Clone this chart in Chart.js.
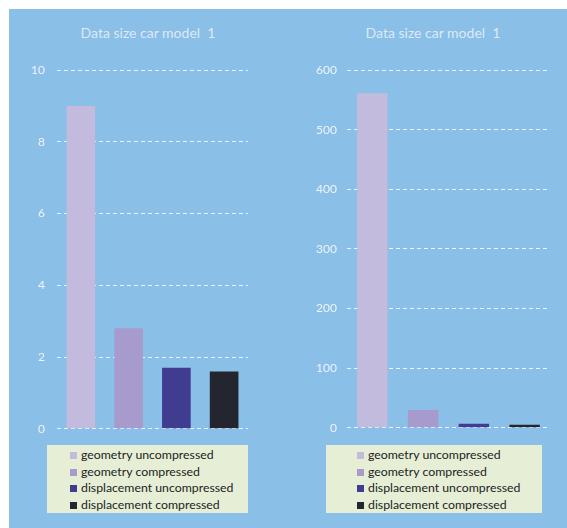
<!DOCTYPE html>
<html>
<head>
<meta charset="utf-8">
<script src="https://cdn.jsdelivr.net/npm/chart.js@4"></script>
<style>
  html, body { margin: 0; padding: 0; background: #fff; }
  #panel { position: absolute; left: 9px; top: 9px; width: 558px; height: 519px; background: #8abfe7; }
  canvas { position: absolute; }
  .title { position: absolute; top: 24px; height: 18px; line-height: 18px; text-align: center; font-family: Lato, sans-serif; font-size: 14px; color: #dde9f6; white-space: pre; }
  .legend { position: absolute; background: #e6efd6; font-family: Lato, sans-serif; font-size: 12.3px; color: #222; box-sizing: border-box; }
  .legend div { height: 16.7px; line-height: 16.7px; white-space: nowrap; }
  .legend span { display: inline-block; width: 7px; height: 7px; margin-right: 4px; vertical-align: 0px; }
</style>
</head>
<body>
<div id="panel"></div>
<div class="title" id="title0" style="left:9px;width:278px"></div>
<div class="title" id="title1" style="left:299px;width:268px"></div>
<canvas id="chart0" width="278" height="439" style="left:9px;top:9px"></canvas>
<canvas id="chart1" width="268" height="436" style="left:299px;top:9px"></canvas>
<div class="legend" id="legend0" style="left:47px;top:445px;width:201px;height:68px;padding:2px 0 0 23px"></div>
<div class="legend" id="legend1" style="left:326px;top:445px;width:216px;height:68px;padding:2px 0 0 31px"></div>
<script>
const title = 'Data size car model  1';
const seriesNames = ['geometry uncompressed', 'geometry compressed', 'displacement uncompressed', 'displacement compressed'];
const seriesColors = ['#c3bbdd', '#a69bcc', '#403c90', '#24262f'];
const valuesSmall = [9.0, 2.8, 1.7, 1.6];
const valuesLarge = [561, 30, 7, 5];

function make_chart(id, values, maxY, step, tickPad, padRight) {
    const ctx = document.getElementById(id).getContext('2d');
    const datasets = [];
    for (let i = 0; i < seriesNames.length; i++)
        datasets.push({
            label: seriesNames[i],
            data: [values[i]],
            backgroundColor: seriesColors[i],
            borderWidth: 0,
            categoryPercentage: 1,
            barPercentage: 0.6,
        });

    return new Chart(ctx, {
        type: 'bar',
        data: { labels: [''], datasets: datasets },
        options: {
            responsive: false,
            animation: false,
            layout: { padding: { top: 61, right: padRight, bottom: 10, left: 0 } },
            plugins: {
                legend: { display: false },
                tooltip: { enabled: false },
            },
            scales: {
                x: { display: false },
                y: {
                    min: 0,
                    max: maxY,
                    ticks: {
                        stepSize: step,
                        color: '#eef4fb',
                        font: { family: 'Lato', size: 12 },
                        padding: tickPad,
                    },
                    grid: {
                        color: 'rgba(240,247,255,0.95)',
                        drawTicks: false,
                    },
                    border: { display: false, dash: [4, 3] },
                    afterFit: s => { s.width = 48; },
                },
            },
        },
    });
}

function make_legend(id) {
    const el = document.getElementById(id);
    for (let i = 0; i < seriesNames.length; i++) {
        const row = document.createElement('div');
        const box = document.createElement('span');
        box.style.background = seriesColors[i];
        row.appendChild(box);
        row.appendChild(document.createTextNode(seriesNames[i]));
        el.appendChild(row);
    }
}

document.getElementById('title0').textContent = title;
document.getElementById('title1').textContent = title;
make_chart('chart0', valuesSmall, 10, 2, 12, 39);
make_chart('chart1', valuesLarge, 600, 100, 10, 17);
make_legend('legend0');
make_legend('legend1');
</script>
</body>
</html>
